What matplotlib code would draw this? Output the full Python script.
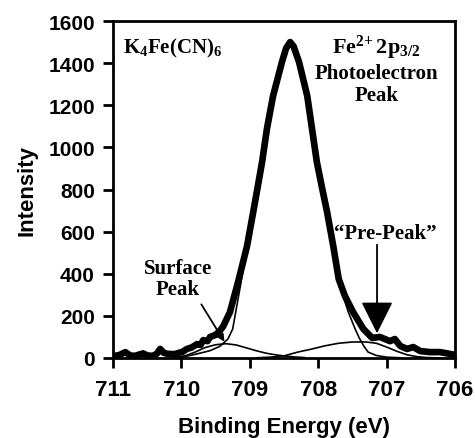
import matplotlib
matplotlib.use("Agg")
import matplotlib.pyplot as plt

# ---- data ----
data_E = [711.0, 710.9, 710.82, 710.75, 710.68, 710.6, 710.56, 710.5, 710.42, 710.36,
          710.31, 710.26, 710.21, 710.1, 710.06, 709.98, 709.92, 709.85, 709.77, 709.72,
          709.68, 709.62, 709.58, 709.5, 709.44, 709.39, 709.29, 709.16, 709.04, 708.95,
          708.89, 708.82, 708.75, 708.66, 708.53, 708.47, 708.41, 708.36, 708.28, 708.16,
          708.09, 708.02, 707.94, 707.87, 707.78, 707.70, 707.61, 707.49, 707.34, 707.21,
          707.10, 706.95, 706.88, 706.80, 706.70, 706.61, 706.51, 706.37, 706.22, 706.07,
          706.0]
data_I = [8, 15, 28, 12, 10, 18, 22, 12, 10, 20,
          43, 25, 20, 18, 22, 30, 43, 50, 66, 62,
          85, 80, 100, 110, 128, 150, 218, 375, 532, 693,
          802, 931, 1087, 1244, 1405, 1470, 1500, 1480, 1405, 1244,
          1087, 931, 802, 693, 532, 375, 295, 218, 138, 95,
          100, 80, 90, 57, 43, 52, 33, 28, 28, 19,
          15]

main_E = [710.1, 709.9, 709.7, 709.58, 709.44, 709.32, 709.25, 709.12, 709.0, 708.89,
          708.75, 708.6, 708.5, 708.41, 708.3, 708.16, 708.02, 707.9, 707.7, 707.56,
          707.46, 707.40, 707.33, 707.27, 707.15, 707.0, 706.8]
main_I = [2, 10, 25, 35, 55, 90, 138, 375, 590, 790,
          1075, 1330, 1450, 1485, 1420, 1230, 920, 720, 360, 218,
          138, 95, 55, 28, 12, 4, 1]

surf_E = [710.1, 709.95, 709.8, 709.65, 709.5, 709.35, 709.2, 709.05, 708.9, 708.75,
          708.6, 708.5, 708.35, 708.2]
surf_I = [2, 10, 28, 50, 63, 68, 62, 48, 34, 22,
          14, 10, 5, 2]

pre_E = [708.9, 708.7, 708.5, 708.3, 708.1, 707.9, 707.7, 707.5, 707.3, 707.15,
         707.0, 706.85, 706.7, 706.55, 706.4, 706.2]
pre_I = [1, 4, 10, 28, 42, 58, 70, 76, 76, 70,
         52, 32, 15, 6, 2, 0]

yticks = [0, 200, 400, 600, 800, 1000, 1200, 1400, 1600]
xticks = [711, 710, 709, 708, 707, 706]

plt.rcParams['mathtext.fontset'] = 'custom'
plt.rcParams['mathtext.rm'] = 'Liberation Serif:bold'
plt.rcParams['mathtext.it'] = 'Liberation Serif:bold'
plt.rcParams['mathtext.bf'] = 'Liberation Serif:bold'

fig = plt.figure(figsize=(4.75, 4.39), dpi=100)
ax = fig.add_axes([113/475, 1-359/439, (455-113)/475, (359-22)/439])

ax.plot(data_E, data_I, color='black', lw=4.8, solid_joinstyle='round', zorder=3)
ax.plot(main_E, main_I, color='black', lw=1.2, zorder=4)
ax.plot(surf_E, surf_I, color='black', lw=1.2, zorder=4)
ax.plot(pre_E, pre_I, color='black', lw=1.2, zorder=4)

ax.set_xlim(711, 706)
ax.set_ylim(0, 1600)
ax.set_xticks(xticks)
ax.set_yticks(yticks)
ax.set_xticklabels([str(v) for v in xticks], family='Liberation Sans', weight='bold', size=16)
ax.set_yticklabels([str(v) for v in yticks], family='Liberation Sans', weight='bold', size=15)
ax.tick_params(axis='both', direction='out', length=7, width=2)
ax.tick_params(axis='y', pad=6)
ax.tick_params(axis='x', pad=8)
for s in ax.spines.values():
    s.set_linewidth(2)

ax.set_xlabel('Binding Energy (eV)', family='Liberation Sans', weight='bold', size=16, labelpad=12)
ax.set_ylabel('Intensity', family='Liberation Sans', weight='bold', size=16, labelpad=8)

serif = dict(family='Liberation Serif', weight='bold', size=15)
ax.text(0.03, 0.955, r'$\mathrm{K_4Fe(CN)_6}$', transform=ax.transAxes, ha='left', va='top', size=15)
ax.text(0.77, 0.965, r'$\mathrm{Fe^{2{+}}\,2p_{3/2}}$', transform=ax.transAxes, ha='center', va='top', size=16)
ax.text(0.77, 0.875, 'Photoelectron\nPeak', transform=ax.transAxes, ha='center', va='top',
        linespacing=1.1, **serif)
ax.text(710.05, 475, 'Surface\nPeak', ha='center', va='top', linespacing=1.05, **serif)
ax.text(707.02, 640, '\u201cPre-Peak\u201d', ha='center', va='top', **serif)

ax.annotate('', xy=(709.35, 66), xytext=(709.73, 266),
            arrowprops=dict(arrowstyle='-|>', color='black', lw=1.3, mutation_scale=10), zorder=5)
ax.annotate('', xy=(707.14, 104), xytext=(707.14, 551),
            arrowprops=dict(arrowstyle='-|>,head_length=1.0,head_width=0.5', color='black', lw=1.3,
                            mutation_scale=20), zorder=5)

fig.savefig('out.png', dpi=100)
